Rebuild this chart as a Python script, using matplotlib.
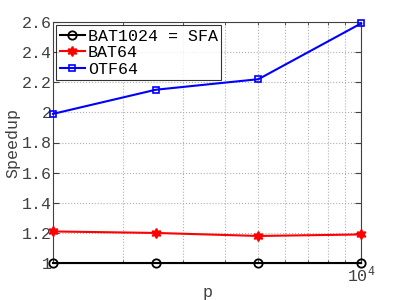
import numpy as np
import matplotlib.pyplot as plt
from matplotlib.ticker import NullFormatter, FixedLocator

p = [1250, 2500, 5000, 10000]
sfa = [1.0, 1.0, 1.0, 1.0]
bat64 = [1.21, 1.20, 1.18, 1.19]
otf64 = [1.99, 2.15, 2.22, 2.59]
yticks = [1, 1.2, 1.4, 1.6, 1.8, 2, 2.2, 2.4, 2.6]
ylabels = ['1', '1.2', '1.4', '1.6', '1.8', '2', '2.2', '2.4', '2.6']

plt.rcParams['font.family'] = 'Liberation Mono'
fig = plt.figure(figsize=(3.99, 3.0), dpi=100)
ax = fig.add_axes([0.133, 0.123, 0.772, 0.804])

ax.plot(p, sfa, color='black', marker='o', mfc='none', ms=6, mew=1.3, lw=1.5,
        label='BAT1024 = SFA', clip_on=False, zorder=5)
ax.plot(p, bat64, color='red', marker=(6, 1, 0), ms=7, mew=1.2, lw=1.5,
        label='BAT64', clip_on=False, zorder=5)
ax.plot(p, otf64, color='blue', marker='s', mfc='none', ms=5, mew=1.2, lw=1.5,
        label='OTF64', clip_on=False, zorder=5)

ax.set_xscale('log')
ax.set_xlim(1250, 10000)
ax.set_ylim(1, 2.6)
ax.xaxis.set_major_locator(FixedLocator([10000]))
ax.xaxis.set_minor_locator(FixedLocator([k * 1000 for k in range(2, 10)]))
ax.xaxis.set_minor_formatter(NullFormatter())
ax.set_yticks(yticks)
ax.set_yticklabels(ylabels)

ax.grid(True, which='both', axis='x', ls=':', color='#b0b0b0', lw=0.8)
ax.grid(True, which='major', axis='y', ls=':', color='#b0b0b0', lw=0.8)
ax.tick_params(which='both', direction='in', top=True, right=True,
               labelsize=12, colors='#404040', length=4, pad=1)
ax.tick_params(which='minor', length=2)
for s in ax.spines.values():
    s.set_color('#404040')

ax.set_xlabel('p', fontsize=12, color='#404040', labelpad=0)
ax.set_ylabel('Speedup', fontsize=12, color='#404040', labelpad=1)

leg = ax.legend(loc='upper left', fontsize=12, frameon=True, fancybox=False,
                borderpad=0.2, handlelength=1.5, handletextpad=0.2,
                labelspacing=0.1, borderaxespad=0.2)
leg.get_frame().set_edgecolor('black')
leg.get_frame().set_linewidth(0.8)

fig.savefig('out.png', dpi=100)
